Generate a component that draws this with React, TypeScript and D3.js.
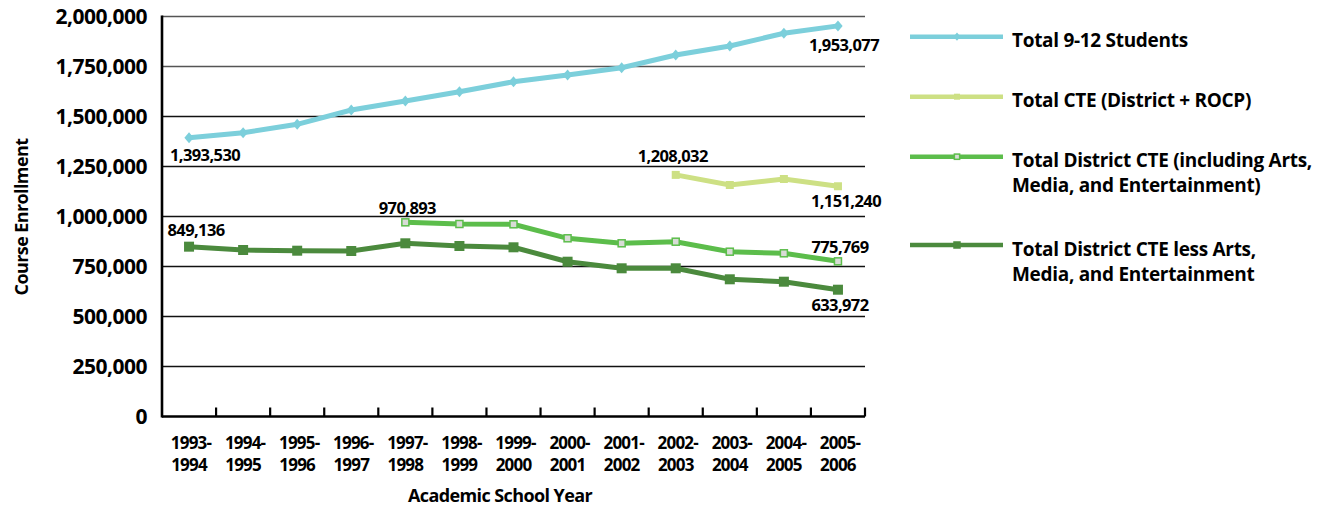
import React from 'react';
import * as d3 from 'd3';

const years = [
  ['1993-', '1994'], ['1994-', '1995'], ['1995-', '1996'], ['1996-', '1997'], ['1997-', '1998'],
  ['1998-', '1999'], ['1999-', '2000'], ['2000-', '2001'], ['2001-', '2002'], ['2002-', '2003'],
  ['2003-', '2004'], ['2004-', '2005'], ['2005-', '2006'],
];

const totalStudents = [1393530, 1419000, 1461000, 1532500, 1577500, 1624000, 1674000, 1707500, 1744000, 1807500, 1852500, 1916000, 1953077];
const totalCte = [null, null, null, null, null, null, null, null, null, 1208032, 1157500, 1187500, 1151240];
const districtCte = [null, null, null, null, 970893, 962500, 961000, 891000, 866000, 874000, 824000, 816000, 775769];
const districtCteLessArts = [849136, 832500, 829000, 827500, 866000, 852500, 846000, 774000, 741000, 741000, 686000, 674000, 633972];

const yTicks = [0, 250000, 500000, 750000, 1000000, 1250000, 1500000, 1750000, 2000000];

const series = [
  { name: ['Total 9-12 Students'], values: totalStudents, color: '#7ccfdb', marker: 'diamond', fill: '#7ccfdb', size: 11 },
  { name: ['Total CTE (District + ROCP)'], values: totalCte, color: '#cde084', marker: 'square', fill: '#cde084', size: 8 },
  { name: ['Total District CTE (including Arts,', 'Media, and Entertainment)'], values: districtCte, color: '#5cbd4b', marker: 'square', fill: '#d8dcd6', size: 7 },
  { name: ['Total District CTE less Arts,', 'Media, and Entertainment'], values: districtCteLessArts, color: '#4b8a3d', marker: 'square', fill: '#4b8a3d', size: 10 },
];

// label placement: [series index, point index, dx, dy]
const labels: [number, number, number, number][] = [
  [0, 0, 16, 18], [0, 12, 6, 20],
  [1, 9, -3, -18], [1, 12, 8, 15],
  [2, 4, 2, -14], [2, 12, 2, -14],
  [3, 0, 7, -16], [3, 12, 2, 16],
];

const font = '"Open Sans", sans-serif';

export default function App() {
  const left = 162, right = 865, top = 16.5, bottom = 416.5;
  const x = d3.scaleBand<number>().domain(d3.range(years.length)).range([left, right]);
  const y = d3.scaleLinear().domain([0, 2000000]).range([bottom, top]);
  const cx = (i: number) => (x(i) as number) + x.bandwidth() / 2;
  const fmt = d3.format(',');

  const line = d3
    .line<number | null>()
    .defined((d) => d != null)
    .x((_, i) => cx(i))
    .y((d) => y(d as number));

  const marker = (s: typeof series[0], px: number, py: number, key: string | number, k = 1) => {
    const h = (s.size * k) / 2;
    return s.marker === 'diamond' ? (
      <path key={key} d={`M${px},${py - h}L${px + h * 0.85},${py}L${px},${py + h}L${px - h * 0.85},${py}Z`} fill={s.fill} />
    ) : (
      <rect key={key} x={px - h} y={py - h} width={2 * h} height={2 * h} fill={s.fill} stroke={s.color} strokeWidth={s.fill === s.color ? 0 : 1.5} />
    );
  };

  const legendY = [36.7, 96.7, 156.7, 245];

  return (
    <svg width={1330} height={506} style={{ position: 'absolute', left: 0, top: 0, background: '#fff' }} fontFamily={font} fontWeight={700}>
      {/* grid */}
      {yTicks.slice(1).map((t, i) => (
        <line key={t} x1={left} x2={right} y1={y(t)} y2={y(t)} stroke={i >= 6 ? '#555' : '#111'} strokeWidth={1.6} />
      ))}
      {/* y labels */}
      {yTicks.map((t) => (
        <text key={t} x={147} y={y(t) + 7.5} textAnchor="end" fontSize={21} letterSpacing={-0.5}>
          {fmt(t)}
        </text>
      ))}
      {/* axes */}
      <line x1={left} x2={left} y1={top - 1} y2={bottom + 1} stroke="#000" strokeWidth={2.6} />
      <line x1={left} x2={right} y1={bottom} y2={bottom} stroke="#000" strokeWidth={2.6} />
      {years.map((_, i) => {
        const xx = (x(i) as number) + x.bandwidth();
        return <line key={i} x1={xx} x2={xx} y1={bottom} y2={bottom - 9} stroke="#000" strokeWidth={2.2} />;
      })}
      {years.map((yr, i) => (
        <text key={i} x={cx(i)} textAnchor="middle" fontSize={17} letterSpacing={-0.8}>
          <tspan x={cx(i) + 2} y={449}>{yr[0]}</tspan>
          <tspan x={cx(i)} y={471}>{yr[1]}</tspan>
        </text>
      ))}
      <text x={500} y={502} textAnchor="middle" fontSize={18} letterSpacing={-0.6}>Academic School Year</text>
      <text transform="translate(28,217) rotate(-90)" textAnchor="middle" fontSize={18} letterSpacing={-0.6}>Course Enrollment</text>

      {/* series */}
      {series.map((s, si) => (
        <g key={si}>
          <path d={line(s.values) as string} fill="none" stroke={s.color} strokeWidth={5} />
          {s.values.map((v, i) => (v == null ? null : marker(s, cx(i), y(v), i)))}
        </g>
      ))}

      {/* data labels */}
      {labels.map(([si, pi, dx, dy], k) => (
        <text key={k} x={cx(pi) + dx} y={y(series[si].values[pi] as number) + dy + 5.5} textAnchor="middle" fontSize={16.5} letterSpacing={-0.6}>
          {fmt(series[si].values[pi] as number)}
        </text>
      ))}

      {/* legend */}
      {series.map((s, si) => (
        <g key={si}>
          <line x1={910} x2={1003} y1={legendY[si]} y2={legendY[si]} stroke={s.color} strokeWidth={4.5} />
          {marker(s, 957, legendY[si], 'm', 0.75)}
          <text fontSize={19} letterSpacing={-0.3}>
            {s.name.map((n, li) => (
              <tspan key={li} x={1012} y={legendY[si] + 10.5 + li * 25}>
                {n}
              </tspan>
            ))}
          </text>
        </g>
      ))}
    </svg>
  );
}
